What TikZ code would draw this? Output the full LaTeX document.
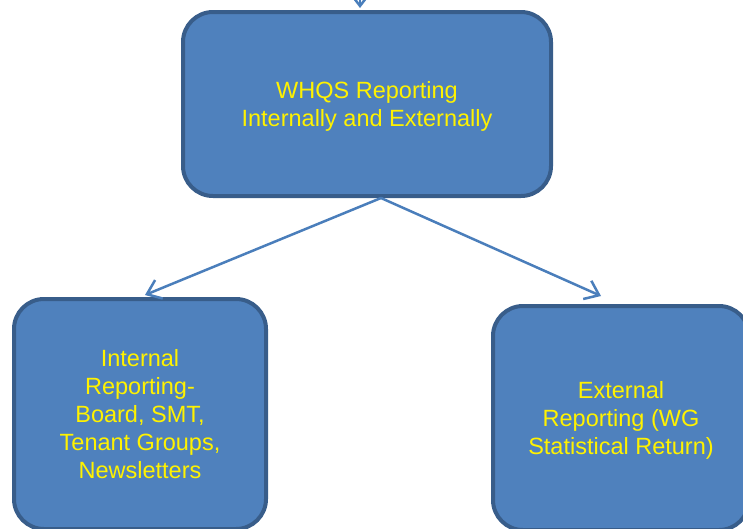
\documentclass[tikz,border=0pt]{standalone}
\usepackage{fontspec}
\setmainfont{Liberation Sans}
\usetikzlibrary{arrows.meta}
\definecolor{boxfill}{HTML}{4F81BD}
\definecolor{boxline}{HTML}{385D8A}
\definecolor{arrowline}{HTML}{4A7EBB}

\begin{document}
\begin{tikzpicture}[x=1pt,y=-1pt,>={Straight Barb[length=13pt,width=20pt]},
    report/.style={draw=boxline,fill=boxfill,line width=4pt,rounded corners=30pt,
      text=yellow,align=center,inner sep=0pt,text depth=0pt,
      font=\fontsize{23.5}{28}\selectfont},
    flow/.style={->,draw=arrowline,line width=2.5pt}]
  \useasboundingbox (0,0) rectangle (743,528);
  \clip (0,0) rectangle (743,528);
  \node[report,minimum width=368pt,minimum height=184pt] (whqs) at (367,104)
    {WHQS Reporting\\Internally and Externally};
  \node[report,minimum width=252pt,minimum height=230pt] (internal) at (140,414)
    {Internal\\Reporting-\\Board, SMT,\\Tenant Groups,\\Newsletters};
  \node[report,minimum width=256pt,minimum height=224pt] (external) at (621,418)
    {External\\Reporting (WG\\Statistical Return)};
  \coordinate (feed) at (360,-6);
  \draw[flow] (feed) -- ([xshift=-7pt,yshift=2pt]whqs.north);
  \draw[flow] ([xshift=14pt]whqs.south) -- ([xshift=5pt,yshift=2pt]internal.north);
  \draw[flow] ([xshift=14pt]whqs.south) -- ([xshift=-20pt,yshift=8pt]external.north);
\end{tikzpicture}
\end{document}
